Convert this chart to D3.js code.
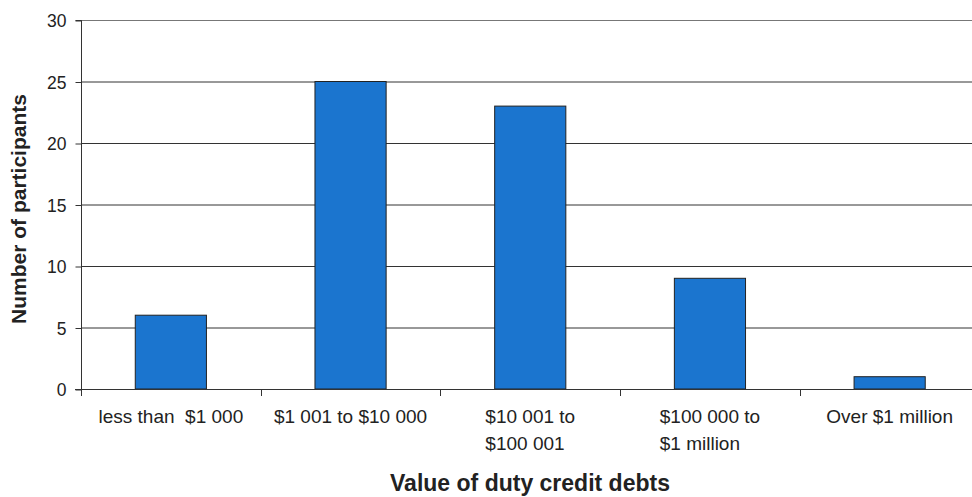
<!DOCTYPE html>
<html>
<head>
<meta charset="utf-8">
<script src="https://cdn.jsdelivr.net/npm/d3@7"></script>
<style>
  body { margin: 0; background: #fff; }
  svg { font-family: 'Liberation Sans', Arial, sans-serif; }
  text { white-space: pre; }
</style>
</head>
<body>
<svg width="972" height="497"></svg>
<script>
var svg = d3.select('svg')

// data
var categories = [
  ['less than  $1 000'],
  ['$1 001 to $10 000'],
  ['$10 001 to', '$100 001'],
  ['$100 000 to', '$1 million'],
  ['Over $1 million']
]
var values = [6, 25, 23, 9, 1]
var yTicks = [0, 5, 10, 15, 20, 25, 30]

var x = d3.scaleBand()
  .domain(d3.range(categories.length))
  .range([81, 979.5])

var y = d3.scaleLinear()
  .domain([0, 30])
  .range([389, 20])

var barW = x.bandwidth() * 0.396

// gridlines
svg.append('g')
  .selectAll('line')
  .data(yTicks.filter((d) => d > 0))
  .enter()
  .append('line')
  .attr('x1', 81)
  .attr('x2', 972)
  .attr('y1', (d) => y(d) + 0.5)
  .attr('y2', (d) => y(d) + 0.5)
  .style('stroke', (d) => d === 30 ? '#777' : '#333')
  .style('stroke-width', 1)

// bars
svg.append('g')
  .selectAll('rect')
  .data(values)
  .enter()
  .append('rect')
  .attr('x', (d, i) => x(i) + (x.bandwidth() - barW) / 2)
  .attr('y', (d) => y(d))
  .attr('width', barW)
  .attr('height', (d) => y(0) - y(d))
  .style('fill', '#1b75cf')
  .style('stroke', '#222')
  .style('stroke-width', 1)

// y axis
var yAxis = svg.append('g')
  .attr('transform', 'translate(81.5,0.5)')
  .call(d3.axisLeft(y).tickValues(yTicks).tickSize(6).tickPadding(9))
yAxis.select('.domain').attr('stroke', '#333').attr('d', 'M-6,' + y(30) + 'H0V' + y(0) + 'H-6')
yAxis.selectAll('.tick line').attr('stroke', '#333')
yAxis.selectAll('.tick text')
  .style('font-size', '17.5px')
  .style('fill', '#222')
  .attr('dy', '0.36em')
  .attr('font-family', null)

// x axis baseline and ticks
var xAxisG = svg.append('g')
svg.append('line')
  .attr('x1', 75)
  .attr('x2', 972)
  .attr('y1', y(0) + 0.5)
  .attr('y2', y(0) + 0.5)
  .style('stroke', '#333')
xAxisG.selectAll('line')
  .data(d3.range(categories.length + 1))
  .enter()
  .append('line')
  .attr('x1', (d) => Math.round(81 + d * x.step()) + 0.5)
  .attr('x2', (d) => Math.round(81 + d * x.step()) + 0.5)
  .attr('y1', y(0))
  .attr('y2', y(0) + 7)
  .style('stroke', '#333')

// category labels (wrapped lines left aligned, block centred)
categories.forEach(function (lines, i) {
  var t = svg.append('text')
    .style('font-size', '19px')
    .style('fill', '#222')
  lines.forEach(function (l, j) {
    t.append('tspan')
      .attr('x', 0)
      .attr('y', 423 + j * 27)
      .text(l)
  })
  var w = t.node().getBBox().width
  var cx = x(i) + x.bandwidth() / 2
  t.selectAll('tspan').attr('x', cx - w / 2)
})

// axis titles
svg.append('text')
  .attr('x', 530)
  .attr('y', 491)
  .attr('text-anchor', 'middle')
  .style('font-size', '23px')
  .style('font-weight', 'bold')
  .style('fill', '#222')
  .text('Value of duty credit debts')

svg.append('text')
  .attr('transform', 'translate(26,209) rotate(-90)')
  .attr('text-anchor', 'middle')
  .style('font-size', '21px')
  .style('font-weight', 'bold')
  .style('fill', '#222')
  .text('Number of participants')
</script>
</body>
</html>
